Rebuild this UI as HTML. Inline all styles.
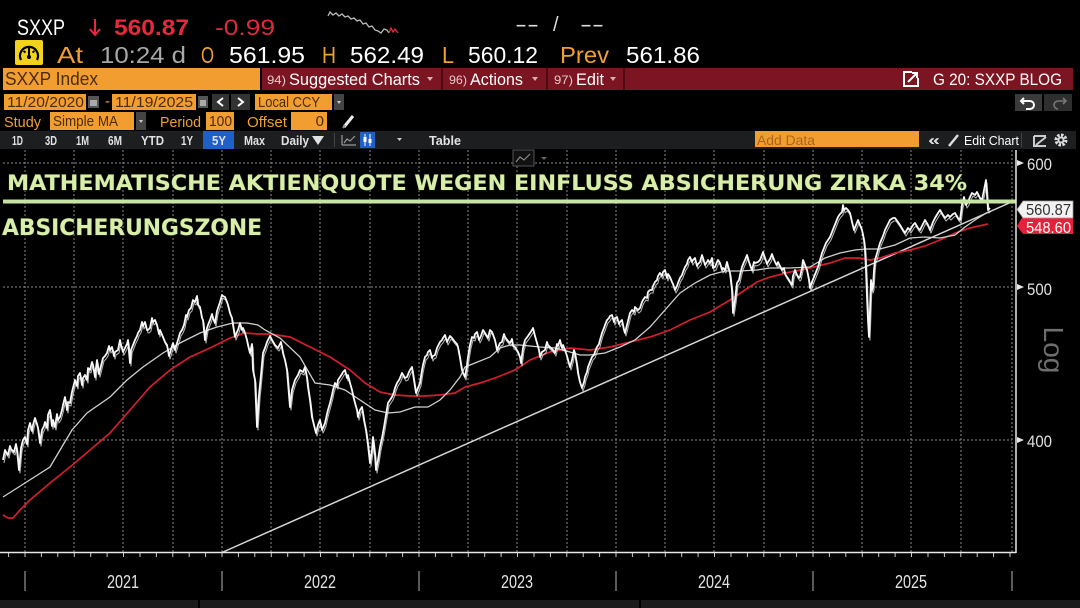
<!DOCTYPE html>
<html><head><meta charset="utf-8">
<style>
html,body{margin:0;padding:0;background:#000;width:1080px;height:608px;overflow:hidden}
svg{display:block}
</style></head>
<body>
<svg width="1080" height="608" viewBox="0 0 1080 608" xmlns="http://www.w3.org/2000/svg" font-family="'Liberation Sans', sans-serif">
<defs>
<polyline id="price" fill="none" stroke-linejoin="round" points="3,460 5,450 6,452 8,455 10,446 11,449 14,452 16,444 17,450 19,470 21,448 23,440 25,437 27,444 28,430 30,423 32,431 33,425 35,418 37,424 38,428 40,443 42,430 44,426 45,422 47,428 48,415 50,410 52,426 53,420 55,427 57,414 58,420 60,417 62,410 63,405 65,397 67,410 68,402 70,403 72,392 73,388 75,380 77,386 78,376 80,373 82,385 83,378 85,375 87,380 88,368 90,370 92,362 93,365 95,377 96,368 97,360 99,374 100,370 102,362 103,358 105,356 107,353 109,346 110,350 112,347 114,356 115,352 118,350 120,340 121,345 123,352 125,348 127,344 128,340 130,363 131,350 133,345 135,340 137,336 138,333 140,330 142,322 143,326 145,322 147,330 148,330 150,328 152,318 153,322 155,320 157,325 159,334 160,330 163,337 165,342 167,345 169,356 170,353 172,346 173,343 175,350 177,343 178,340 180,333 182,330 184,325 186,315 187,317 189,310 191,308 193,300 195,302 197,296 198,305 200,307 202,318 203,320 205,340 207,328 208,325 210,320 212,314 213,318 215,323 217,311 218,308 220,302 222,295 223,296 225,297 227,302 228,305 230,313 232,318 233,325 235,337 237,332 238,330 240,323 242,330 243,328 245,333 247,340 248,345 250,353 252,344 253,370 255,380 257,427 259,395 261,375 263,353 265,348 267,342 270,336 272,340 275,345 278,348 281,342 283,353 285,360 287,370 289,395 290,407 292,390 295,380 298,375 300,370 303,372 305,367 307,378 308,387 310,400 312,417 314,425 316,433 318,425 320,420 322,430 323,428 325,423 327,414 328,410 330,403 332,395 333,390 335,383 337,386 338,380 340,377 342,374 343,372 345,370 347,378 348,375 350,383 352,390 353,395 355,403 357,410 358,417 360,410 362,407 364,420 366,430 368,445 370,463 372,450 373,437 375,455 376,470 378,460 380,447 382,438 384,427 386,415 388,403 390,400 392,397 394,392 395,388 397,383 399,380 400,378 402,373 405,378 407,377 409,372 410,370 412,367 414,380 416,393 418,388 420,383 422,370 423,365 425,357 427,355 428,352 430,350 432,358 433,356 435,355 437,348 438,346 440,342 442,340 443,338 445,335 447,342 448,340 450,336 452,338 455,342 457,344 458,347 460,358 462,370 464,375 465,377 467,365 468,357 470,345 472,337 474,338 475,334 477,332 479,340 481,336 483,330 485,333 488,338 490,330 492,332 495,340 497,350 500,343 502,342 504,334 505,337 508,341 510,343 512,339 513,346 515,347 518,352 520,357 521,363 523,348 525,340 528,336 530,333 532,330 533,328 535,336 537,343 539,350 540,357 542,352 545,350 547,342 548,345 550,347 553,350 555,353 557,344 558,346 560,340 562,348 563,345 565,350 567,356 568,360 570,367 572,360 574,350 575,353 577,365 578,373 580,382 582,388 584,382 585,377 587,372 588,367 590,362 592,357 594,355 595,352 597,347 599,344 600,340 602,333 604,328 605,325 607,320 609,318 610,316 612,315 614,322 615,318 617,317 619,324 620,322 622,320 624,330 625,333 627,325 630,313 632,310 634,312 635,307 638,310 640,308 642,302 643,300 645,297 647,298 648,292 650,290 652,290 653,286 655,282 657,280 658,276 660,273 662,276 663,272 665,270 667,278 668,274 670,277 672,282 673,284 675,290 677,286 678,283 680,278 682,275 683,272 685,267 687,264 688,260 690,257 692,262 693,260 695,258 697,266 698,264 700,262 702,255 703,258 705,265 707,262 708,260 710,263 712,258 713,268 715,267 717,262 718,260 720,263 722,270 723,268 725,270 727,262 728,266 730,273 732,290 733,313 735,300 737,283 739,280 740,275 742,267 744,262 745,260 747,255 749,262 750,265 752,270 754,262 755,263 758,262 760,260 762,255 763,252 765,258 767,264 768,262 770,259 772,254 773,257 775,262 777,265 778,262 780,266 782,270 784,268 785,274 787,277 789,280 790,282 792,285 793,276 795,270 797,275 799,278 800,277 802,268 803,260 805,265 807,270 809,280 810,288 812,282 814,277 816,272 818,267 820,260 822,253 824,248 826,243 828,240 830,237 832,232 834,227 836,222 838,217 840,214 842,212 843,205 844,210 846,208 848,210 850,213 852,222 854,230 856,225 858,220 860,225 862,230 864,240 865,250 866,270 867,297 868,320 869,337 870,310 871,280 872,290 873,287 874,270 875,260 878,250 880,243 883,236 885,230 888,224 890,220 893,218 895,218 898,222 900,225 903,230 905,233 908,228 910,230 913,225 915,223 918,228 920,230 923,224 925,220 928,225 930,230 933,222 935,218 938,213 940,210 943,215 945,218 948,215 950,217 953,214 955,213 958,218 960,220 962,205 964,197 966,205 968,202 970,197 972,193 975,195 977,192 980,198 982,200 984,190 986,180 987,195 988,210 990,208"/>
</defs>
<rect width="1080" height="608" fill="#000"/>

<!-- ===== Row 1 ===== -->
<text x="17" y="35" font-size="22" fill="#fff" textLength="48" lengthAdjust="spacingAndGlyphs">SXXP</text>
<path d="M95,19 V35 M90,29 L95,35 L100,29" stroke="#e8283c" stroke-width="2" fill="none"/>
<text x="114" y="35" font-size="22" font-weight="bold" fill="#e8283c" textLength="75" lengthAdjust="spacingAndGlyphs">560.87</text>
<text x="215" y="35" font-size="22" fill="#e02a3a" textLength="60" lengthAdjust="spacingAndGlyphs">-0.99</text>
<polyline points="328,16 330,12 333,15 336,13 339,16 342,14 345,17 348,16 351,19 354,18 357,21 360,20 363,24 366,23 369,27 372,26 375,30 378,31 381,33 384,29 387,30 389,33" stroke="#bbb" stroke-width="1.3" fill="none"/>
<polyline points="389,33 391,28 393,32 395,29 398,33" stroke="#e8283c" stroke-width="1.3" fill="none"/>
<text x="515" y="31" font-size="20" fill="#ddd" textLength="24" lengthAdjust="spacingAndGlyphs">--</text>
<text x="553" y="31" font-size="20" fill="#ddd">/</text>
<text x="580" y="31" font-size="20" fill="#ddd" textLength="24" lengthAdjust="spacingAndGlyphs">--</text>

<!-- ===== Row 2 ===== -->
<rect x="15" y="40" width="28" height="25" rx="2" fill="#f3d21e"/>
<path d="M21,60 A9,9 0 1,1 37,60" stroke="#000" stroke-width="2.2" fill="none"/>
<path d="M29,57 L29,47 M23.5,51 L25.5,52.5 M34.5,51 L32.5,52.5" stroke="#000" stroke-width="2" fill="none"/>
<circle cx="29" cy="57" r="2" fill="#000"/>
<g font-size="23">
<text x="57" y="63" fill="#f0a030" textLength="26" lengthAdjust="spacingAndGlyphs">At</text>
<text x="100" y="63" fill="#a8a8a8" textLength="86" lengthAdjust="spacingAndGlyphs">10:24 d</text>
<text x="201" y="63" fill="#f0a030" textLength="13" lengthAdjust="spacingAndGlyphs">O</text>
<text x="229" y="63" fill="#fff" textLength="76" lengthAdjust="spacingAndGlyphs">561.95</text>
<text x="322" y="63" fill="#f0a030" textLength="14" lengthAdjust="spacingAndGlyphs">H</text>
<text x="350" y="63" fill="#fff" textLength="74" lengthAdjust="spacingAndGlyphs">562.49</text>
<text x="442" y="63" fill="#f0a030" textLength="12" lengthAdjust="spacingAndGlyphs">L</text>
<text x="468" y="63" fill="#fff" textLength="70" lengthAdjust="spacingAndGlyphs">560.12</text>
<text x="560" y="63" fill="#f0a030" textLength="49" lengthAdjust="spacingAndGlyphs">Prev</text>
<text x="626" y="63" fill="#fff" textLength="74" lengthAdjust="spacingAndGlyphs">561.86</text>
</g>

<!-- ===== Row 3 ===== -->
<rect x="3" y="68" width="257" height="22" fill="#f29d2f"/>
<text x="5" y="85" font-size="18" fill="#4a2c06" textLength="93" lengthAdjust="spacingAndGlyphs">SXXP Index</text>
<rect x="262" y="68" width="811" height="22" fill="#7b1521"/>
<rect x="441" y="68" width="2" height="22" fill="#4e0b12"/>
<rect x="546" y="68" width="2" height="22" fill="#4e0b12"/>
<rect x="623" y="68" width="2" height="22" fill="#4e0b12"/>
<text x="267" y="84" font-size="12" fill="#e6c8c8" textLength="19" lengthAdjust="spacingAndGlyphs">94)</text>
<text x="289" y="85" font-size="17" fill="#fff" textLength="131" lengthAdjust="spacingAndGlyphs">Suggested Charts</text>
<polygon points="427,77 433,77 430,81" fill="#d8b0b0"/>
<text x="449" y="84" font-size="12" fill="#e6c8c8" textLength="18" lengthAdjust="spacingAndGlyphs">96)</text>
<text x="470" y="85" font-size="17" fill="#fff" textLength="53" lengthAdjust="spacingAndGlyphs">Actions</text>
<polygon points="532,77 538,77 535,81" fill="#d8b0b0"/>
<text x="554" y="84" font-size="12" fill="#e6c8c8" textLength="19" lengthAdjust="spacingAndGlyphs">97)</text>
<text x="576" y="85" font-size="17" fill="#fff" textLength="28" lengthAdjust="spacingAndGlyphs">Edit</text>
<polygon points="610,77 616,77 613,81" fill="#d8b0b0"/>
<path d="M912,72 H904 V86 H918 V78" stroke="#fff" stroke-width="2" fill="none"/>
<path d="M908,82 L917,73 M912,73 H917 V78" stroke="#fff" stroke-width="2" fill="none"/>
<text x="933" y="85" font-size="17" fill="#fff" textLength="129" lengthAdjust="spacingAndGlyphs">G 20: SXXP BLOG</text>

<!-- ===== Row 4 ===== -->
<rect x="4" y="94" width="82" height="16" fill="#f29d2f"/>
<text x="7" y="107" font-size="15" fill="#4a2c06" textLength="77" lengthAdjust="spacingAndGlyphs">11/20/2020</text>
<rect x="88" y="96" width="11" height="12" fill="#555"/><rect x="90" y="100" width="7" height="6" fill="#aaa"/>
<text x="105" y="106" font-size="15" fill="#f0a030">-</text>
<rect x="112" y="94" width="84" height="16" fill="#f29d2f"/>
<text x="115" y="107" font-size="15" fill="#4a2c06" textLength="78" lengthAdjust="spacingAndGlyphs">11/19/2025</text>
<rect x="198" y="96" width="10" height="12" fill="#555"/><rect x="200" y="100" width="6" height="6" fill="#aaa"/>
<rect x="212" y="94" width="17" height="16" fill="#333"/>
<path d="M223,98 L218,102 L223,106" stroke="#fff" stroke-width="2" fill="none"/>
<rect x="231" y="94" width="19" height="16" fill="#333"/>
<path d="M238,98 L243,102 L238,106" stroke="#fff" stroke-width="2" fill="none"/>
<rect x="255" y="94" width="77" height="16" fill="#f29d2f"/>
<text x="258" y="107" font-size="15" fill="#4a2c06" textLength="62" lengthAdjust="spacingAndGlyphs">Local CCY</text>
<rect x="334" y="94" width="10" height="16" fill="#444"/>
<polygon points="337,101 341,101 339,104" fill="#ccc"/>
<rect x="1015" y="94" width="27" height="17" fill="#3a3a3a"/>
<rect x="1044" y="94" width="28" height="17" fill="#2e2e2e"/>
<path d="M1024,98 L1021,101 L1024,104 M1021,101 H1030 A4,4 0 0 1 1030,109 H1026" stroke="#fff" stroke-width="2" fill="none"/>
<path d="M1063,98 L1066,101 L1063,104 M1066,101 H1058 A4,4 0 0 0 1058,109" stroke="#777" stroke-width="1.6" fill="none"/>

<!-- ===== Row 5 ===== -->
<text x="4" y="127" font-size="15" fill="#f0a030" textLength="37" lengthAdjust="spacingAndGlyphs">Study</text>
<rect x="50" y="112" width="84" height="18" fill="#f29d2f"/>
<text x="53" y="126" font-size="15" fill="#4a2c06" textLength="65" lengthAdjust="spacingAndGlyphs">Simple MA</text>
<rect x="136" y="112" width="10" height="18" fill="#444"/>
<polygon points="139,120 143,120 141,123" fill="#ccc"/>
<text x="160" y="127" font-size="15" fill="#f0a030" textLength="41" lengthAdjust="spacingAndGlyphs">Period</text>
<rect x="206" y="112" width="28" height="18" fill="#f29d2f"/>
<text x="209" y="126" font-size="15" fill="#4a2c06" textLength="23" lengthAdjust="spacingAndGlyphs">100</text>
<text x="247" y="127" font-size="15" fill="#f0a030" textLength="40" lengthAdjust="spacingAndGlyphs">Offset</text>
<rect x="291" y="112" width="36" height="18" fill="#f29d2f"/>
<text x="324" y="126" font-size="15" fill="#4a2c06" text-anchor="end">0</text>
<path d="M344,127 L353,116" stroke="#eee" stroke-width="3"/>
<path d="M343,128 L345,125" stroke="#999" stroke-width="2"/>

<!-- ===== Row 6 ===== -->
<rect x="0" y="131" width="1076" height="18" fill="#1d1e20"/>
<g font-size="13" font-weight="bold" fill="#e2e2e2">
<text x="12" y="145" textLength="11" lengthAdjust="spacingAndGlyphs">1D</text>
<text x="45" y="145" textLength="12" lengthAdjust="spacingAndGlyphs">3D</text>
<text x="76" y="145" textLength="13" lengthAdjust="spacingAndGlyphs">1M</text>
<text x="108" y="145" textLength="14" lengthAdjust="spacingAndGlyphs">6M</text>
<text x="141" y="145" textLength="23" lengthAdjust="spacingAndGlyphs">YTD</text>
<text x="181" y="145" textLength="12" lengthAdjust="spacingAndGlyphs">1Y</text>
<rect x="203" y="131" width="31" height="18" fill="#1f5fc8"/>
<text x="212" y="145" textLength="14" lengthAdjust="spacingAndGlyphs">5Y</text>
<text x="244" y="145" textLength="21" lengthAdjust="spacingAndGlyphs">Max</text>
<text x="281" y="145" textLength="28" lengthAdjust="spacingAndGlyphs">Daily</text>
<polygon points="312,136 324,136 318,145" fill="#e2e2e2"/>
<rect x="334" y="133" width="1" height="14" fill="#444"/>
<path d="M342,145 V135 M342,145 H356 M344,143 L347,139 L350,141 L355,136" stroke="#999" stroke-width="1.2" fill="none"/>
<rect x="360" y="132" width="15" height="16" fill="#1f5fc8"/>
<path d="M365,134 V146 M370,134 V146" stroke="#fff" stroke-width="1"/>
<rect x="363.5" y="137" width="3" height="5" fill="#fff"/><rect x="368.5" y="139" width="3" height="4" fill="#fff"/>
<polygon points="397,138 402,138 399.5,141" fill="#ccc"/>
<text x="429" y="145" textLength="32" lengthAdjust="spacingAndGlyphs">Table</text>
</g>
<rect x="755" y="131" width="164" height="16" fill="#f29d2f"/>
<text x="757" y="145" font-size="14" fill="#a8661a" textLength="58" lengthAdjust="spacingAndGlyphs">Add Data</text>
<text x="928" y="145" font-size="15" font-weight="bold" fill="#ddd" textLength="12" lengthAdjust="spacingAndGlyphs">«</text>
<path d="M949,146 L958,135" stroke="#ddd" stroke-width="2.5"/>
<text x="964" y="145" font-size="13" fill="#fff" textLength="55" lengthAdjust="spacingAndGlyphs">Edit Chart</text>
<rect x="1021" y="133" width="1" height="14" fill="#444"/>
<path d="M1034,136 H1046 M1034,136 V146 H1046 M1036,145 L1046,137" stroke="#ccc" stroke-width="2" fill="none"/>
<circle cx="1061" cy="140" r="5" fill="none" stroke="#ddd" stroke-width="3" stroke-dasharray="2.5,1.4"/>
<circle cx="1061" cy="140" r="3.5" fill="#ddd"/>
<circle cx="1061" cy="140" r="1.6" fill="#1d1e20"/>

<!-- ===== Chart grid ===== -->
<g stroke="#8a8a8a" stroke-width="1" stroke-dasharray="2,2">
<line x1="3" y1="163" x2="1012" y2="163"/>
<line x1="3" y1="287" x2="1012" y2="287"/>
<line x1="3" y1="440" x2="1012" y2="440"/>
<line x1="25" y1="150" x2="25" y2="552"/><line x1="74" y1="150" x2="74" y2="552"/>
<line x1="123" y1="150" x2="123" y2="552"/><line x1="173" y1="150" x2="173" y2="552"/>
<line x1="222" y1="150" x2="222" y2="552"/><line x1="271" y1="150" x2="271" y2="552"/>
<line x1="320" y1="150" x2="320" y2="552"/><line x1="370" y1="150" x2="370" y2="552"/>
<line x1="419" y1="150" x2="419" y2="552"/><line x1="468" y1="150" x2="468" y2="552"/>
<line x1="517" y1="150" x2="517" y2="552"/><line x1="567" y1="150" x2="567" y2="552"/>
<line x1="616" y1="150" x2="616" y2="552"/><line x1="665" y1="150" x2="665" y2="552"/>
<line x1="714" y1="150" x2="714" y2="552"/><line x1="764" y1="150" x2="764" y2="552"/>
<line x1="813" y1="150" x2="813" y2="552"/><line x1="862" y1="150" x2="862" y2="552"/>
<line x1="911" y1="150" x2="911" y2="552"/><line x1="961" y1="150" x2="961" y2="552"/>
<line x1="1012" y1="150" x2="1012" y2="552"/>
</g>
<rect x="513" y="150" width="21" height="16" fill="#111" stroke="#555"/>
<polyline points="516,162 520,157 524,160 530,154" stroke="#888" stroke-width="1.2" fill="none"/>
<polygon points="541,157 547,157 544,160" fill="#666"/>

<!-- Trend line -->
<line x1="222" y1="552.5" x2="1016" y2="200" stroke="#d6d6d6" stroke-width="1.5"/>

<!-- Red MA -->
<polyline fill="none" stroke="#d41e2e" stroke-width="1.7" points="3,515 8,518 13,518 20,510 30,500 50,483 70,467 90,450 110,433 130,410 150,387 170,370 190,357 210,348 230,338 245,333 258,334 270,334 290,337 310,347 330,357 350,370 365,383 380,392 395,395 410,396 425,396 440,395 455,393 465,387 480,383 495,378 505,374 515,370 530,360 550,352 570,348 590,350 610,347 630,342 650,337 670,330 690,320 710,312 730,300 745,290 757,282 770,277 790,272 810,268 830,263 845,258 860,258 870,260 880,258 895,253 910,250 925,246 940,240 955,233 970,228 988,224"/>

<!-- White MA -->
<polyline fill="none" stroke="#cfcfcf" stroke-width="1.3" points="3,497 25,483 50,467 63,445 72,430 87,413 110,397 127,380 143,367 163,353 180,343 200,333 217,327 233,323 247,323 258,325 265,330 280,338 300,357 315,383 330,385 345,390 360,400 375,410 388,413 400,412 415,407 428,407 440,400 450,390 460,377 465,367 475,363 490,357 500,348 510,345 520,345 540,347 555,348 570,352 580,355 590,355 605,353 620,347 635,340 650,327 665,310 680,293 695,283 710,275 725,271 740,271 757,270 770,268 790,268 810,267 825,258 840,253 855,250 865,249 880,249 895,245 910,238 925,237 940,238 955,235 965,227 975,220 988,212"/>

<!-- Price -->
<use href="#price" stroke="#e8e8e8" stroke-width="1.1" opacity="0.75" transform="translate(1,3)"/>
<use href="#price" stroke="#f8f8f8" stroke-width="1.8"/>

<!-- Green annotation line + text -->
<rect x="3" y="199.5" width="1013" height="4" fill="#c8e4a2"/>
<text x="7" y="190" font-family="'DejaVu Sans', sans-serif" font-weight="bold" font-size="21" fill="#d8eeaa" stroke="#1e2a0c" stroke-width="1" paint-order="stroke" textLength="960" lengthAdjust="spacingAndGlyphs">MATHEMATISCHE AKTIENQUOTE WEGEN EINFLUSS ABSICHERUNG ZIRKA 34%</text>
<text x="2" y="235" font-family="'DejaVu Sans', sans-serif" font-weight="bold" font-size="22" fill="#d8eeaa" stroke="#1e2a0c" stroke-width="1" paint-order="stroke" textLength="260" lengthAdjust="spacingAndGlyphs">ABSICHERUNGSZONE</text>

<!-- Frame -->
<line x1="1016" y1="150" x2="1016" y2="553" stroke="#e8e8e8" stroke-width="1.5"/>
<line x1="0" y1="552.5" x2="1016" y2="552.5" stroke="#e8e8e8" stroke-width="1.5"/>
<path stroke="#ccc" stroke-width="1" d="M8.6,553 v4 M25,553 v4 M41.4,553 v4 M57.8,553 v4 M74.3,553 v4 M90.7,553 v4 M107.1,553 v4 M123.5,553 v4 M140,553 v4 M156.4,553 v4 M172.8,553 v4 M189.2,553 v4 M205.6,553 v4 M222,553 v4 M238.4,553 v4 M254.8,553 v4 M271.3,553 v4 M287.7,553 v4 M304.1,553 v4 M320.5,553 v4 M337,553 v4 M353.4,553 v4 M369.8,553 v4 M386.2,553 v4 M402.6,553 v4 M419,553 v4 M435.4,553 v4 M451.8,553 v4 M468.3,553 v4 M484.7,553 v4 M501.1,553 v4 M517.5,553 v4 M534,553 v4 M550.4,553 v4 M566.8,553 v4 M583.2,553 v4 M599.6,553 v4 M616,553 v4 M632.4,553 v4 M648.8,553 v4 M665.3,553 v4 M681.7,553 v4 M698.1,553 v4 M714.5,553 v4 M731,553 v4 M747.4,553 v4 M763.8,553 v4 M780.2,553 v4 M796.6,553 v4 M813,553 v4 M829.4,553 v4 M845.8,553 v4 M862.3,553 v4 M878.7,553 v4 M895.1,553 v4 M911.5,553 v4 M928,553 v4 M944.4,553 v4 M960.8,553 v4 M977.2,553 v4 M993.6,553 v4 M1010,553 v4"/>

<!-- Year axis -->
<g stroke="#8a8a8a" stroke-width="1.3">
<line x1="25" y1="571" x2="25" y2="591"/><line x1="222" y1="571" x2="222" y2="591"/>
<line x1="419" y1="571" x2="419" y2="591"/><line x1="616" y1="571" x2="616" y2="591"/>
<line x1="813" y1="571" x2="813" y2="591"/><line x1="1012" y1="571" x2="1012" y2="591"/>
</g>
<g font-size="18" fill="#e4e4e4" text-anchor="middle">
<text x="123" y="588" textLength="32" lengthAdjust="spacingAndGlyphs">2021</text>
<text x="320" y="588" textLength="32" lengthAdjust="spacingAndGlyphs">2022</text>
<text x="517" y="588" textLength="32" lengthAdjust="spacingAndGlyphs">2023</text>
<text x="714" y="588" textLength="32" lengthAdjust="spacingAndGlyphs">2024</text>
<text x="911" y="588" textLength="32" lengthAdjust="spacingAndGlyphs">2025</text>
</g>
<rect x="0" y="600" width="1080" height="8" fill="#1b1b1b"/>
<rect x="198" y="600" width="2" height="8" fill="#000"/>
<rect x="639" y="600" width="2" height="8" fill="#000"/>

<!-- Right axis -->
<g fill="#e6e6e6">
<polygon points="1017,160 1024,163 1017,166"/>
<polygon points="1017,284 1024,287 1017,290"/>
<polygon points="1017,437 1024,440 1017,443"/>
</g>
<g font-size="17" fill="#e0e0e0">
<text x="1027" y="170" textLength="25" lengthAdjust="spacingAndGlyphs">600</text>
<text x="1027" y="295" textLength="25" lengthAdjust="spacingAndGlyphs">500</text>
<text x="1027" y="447" textLength="25" lengthAdjust="spacingAndGlyphs">400</text>
</g>
<polygon points="1017,226 1023,216 1073,216 1073,234 1023,234" fill="#e3213a"/>
<text x="1026" y="233" font-size="16" fill="#fff" textLength="45" lengthAdjust="spacingAndGlyphs">548.60</text>
<polygon points="1017,209.5 1023,201 1073,201 1073,218 1023,218" fill="#f2f2f2" stroke="#999" stroke-width="0.8"/>
<text x="1026" y="215" font-size="16" fill="#333" textLength="45" lengthAdjust="spacingAndGlyphs">560.87</text>
<text transform="translate(1044,350) rotate(90)" font-size="28" fill="#6e6e6e" text-anchor="middle">Log</text>
</svg>
</body></html>
